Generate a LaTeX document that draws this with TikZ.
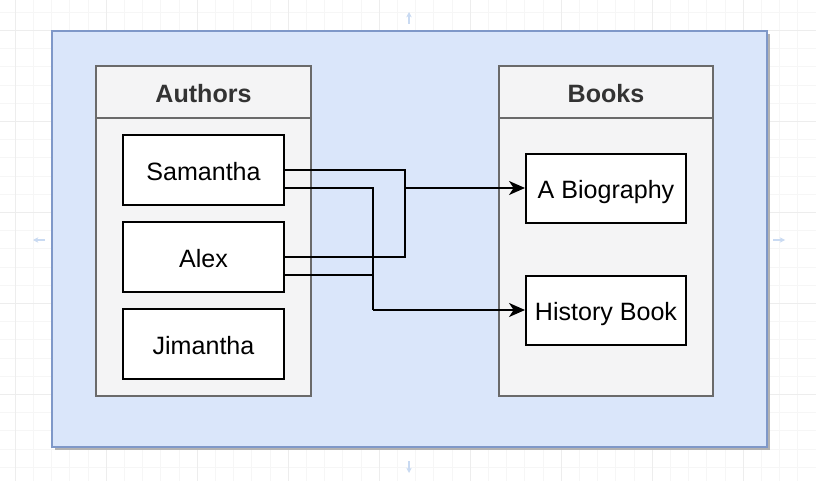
\documentclass[tikz,border=0pt]{standalone}
\usepackage{fontspec}
\setmainfont{Liberation Sans}
\usetikzlibrary{arrows.meta,calc}
\definecolor{outerfill}{HTML}{DAE6FA}
\definecolor{outerline}{HTML}{7F98C8}
\definecolor{contfill}{HTML}{F4F4F5}
\definecolor{contline}{HTML}{6A6A6A}
\definecolor{gridminor}{HTML}{F6F6F6}
\definecolor{gridmajor}{HTML}{EDEDED}
\definecolor{hintblue}{HTML}{C9DAF2}
\tikzset{
  every node/.style={font=\fontsize{18.8}{22}\selectfont, text height=16pt, text depth=1pt},
  container/.style={draw=contline, line width=1.5pt, fill=contfill, inner sep=0pt},
  itembox/.style={draw=black, line width=1.5pt, fill=white, inner sep=0pt,
    minimum width=120.75pt, minimum height=52.5pt},
  bookbox/.style={draw=black, line width=1.5pt, fill=white, inner sep=0pt,
    minimum width=120pt, minimum height=51.75pt},
  header/.style={font=\fontsize{18.8}{22}\selectfont\bfseries, text=black!80},
  link/.style={draw=black, line width=1.5pt, -{Stealth[length=12pt,width=10.5pt,inset=3.5pt]}},
  plain/.style={draw=black, line width=1.5pt},
  hint/.style={draw=hintblue, line width=1.2pt, -{Stealth[length=4pt,width=4pt]}}
}
\begin{document}
\begin{tikzpicture}[x=0.75pt,y=-0.75pt]
\useasboundingbox (0,0) rectangle (816,481);
\fill[white] (0,0) rectangle (816,481);
% editor grid
\foreach \i in {0,...,45} {
  \draw[gridminor, line width=0.5pt] ({-3+\i*18.2},0) -- ({-3+\i*18.2},481);
}
\foreach \i in {0,...,27} {
  \draw[gridminor, line width=0.5pt] (0,{-6+\i*18.2}) -- (816,{-6+\i*18.2});
}
\foreach \i in {0,...,9} {
  \draw[gridmajor, line width=0.6pt] ({15+\i*91},0) -- ({15+\i*91},481);
}
\foreach \i in {0,...,5} {
  \draw[gridmajor, line width=0.6pt] (0,{30+\i*91}) -- (816,{30+\i*91});
}
% hover hints
\draw[hint] (409,24) -- (409,12);
\draw[hint] (409,461) -- (409,473);
\draw[hint] (45,240) -- (33,240);
\draw[hint] (773,240) -- (785,240);
% outer box with shadow
\fill[black!30] (55,34) rectangle (770,450);
\node[draw=outerline, line width=1.3pt, fill=outerfill, inner sep=0pt,
  minimum width=536.25pt, minimum height=312pt] (outer) at (409.5,239) {};
% containers
\node[container, minimum width=161.25pt, minimum height=247.5pt] (authors) at (203.5,231) {};
\draw[contline, line width=1.5pt] (96,118) -- (311,118);
\node[header] (authorsT) at (203.5,93) {Authors};
\node[container, minimum width=160.5pt, minimum height=247.5pt] (books) at (606,231) {};
\draw[contline, line width=1.5pt] (499,118) -- (713,118);
\node[header] (booksT) at (606,93) {Books};
% items
\node[itembox] (sam) at (203.5,170) {Samantha};
\node[itembox] (alex) at (203.5,257) {Alex};
\node[itembox] (jim) at (203.5,344) {Jimantha};
\node[bookbox] (bio) at (606,188) {A Biography};
\node[bookbox] (hist) at (606,310) {History Book};
% junctions
\coordinate (j1) at (405,188);
\coordinate (j2) at (373,310);
% connectors
\draw[plain] (sam.east) -| (j1);
\draw[plain] (alex.east) -| (j1);
\draw[link] (j1) -- (bio.west);
\draw[plain] ($(sam.east)+(0,18)$) -| (j2);
\draw[plain] ($(alex.east)+(0,18)$) -| (j2);
\draw[link] (j2) -- (hist.west);
\end{tikzpicture}
\end{document}
